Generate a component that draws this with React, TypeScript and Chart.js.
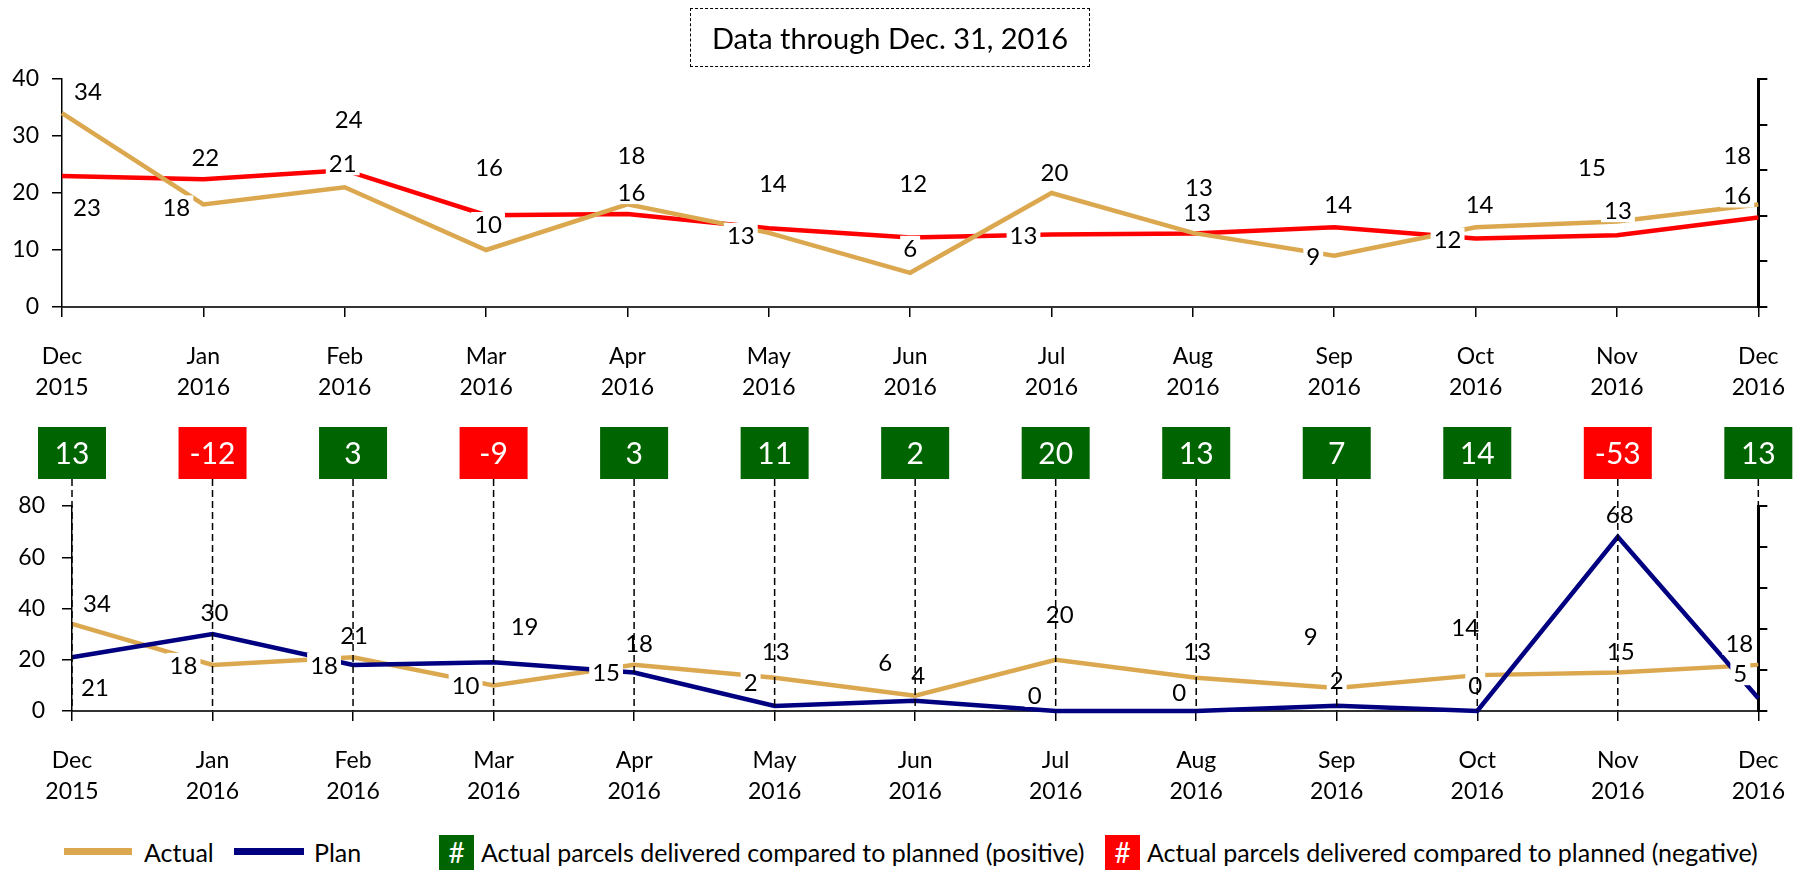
import React, { useEffect, useRef } from 'react';
import { Chart, registerables } from 'chart.js';

Chart.register(...registerables);

const FONT = 'Lato, "Open Sans", sans-serif';

// ---------- data ----------
const monthLabels = ['Dec', 'Jan', 'Feb', 'Mar', 'Apr', 'May', 'Jun', 'Jul', 'Aug', 'Sep', 'Oct', 'Nov', 'Dec'];
const yearLabels = ['2015', '2016', '2016', '2016', '2016', '2016', '2016', '2016', '2016', '2016', '2016', '2016', '2016'];
const actualValues = [34, 18, 21, 10, 18, 13, 6, 20, 13, 9, 14, 15, 18];
const trendValues = [23.0, 22.4, 24.0, 16.1, 16.3, 13.8, 12.2, 12.7, 12.9, 14.0, 12.0, 12.6, 15.7];
const planValues = [21, 30, 18, 19, 15, 2, 4, 0, 0, 2, 0, 68, 5];
const differenceValues = [13, -12, 3, -9, 3, 11, 2, 20, 13, 7, 14, -53, 13];
const topAxisRange = [0, 40, 10];
const bottomAxisRange = [0, 80, 20];
const titleText = 'Data through Dec. 31, 2016';
const legendActual = 'Actual';
const legendPlan = 'Plan';
const legendPositive = 'Actual parcels delivered compared to planned (positive)';
const legendNegative = 'Actual parcels delivered compared to planned (negative)';

// ---------- styling: label placement offsets (px from the point) ----------
const topActualLabelOffsets = [[26, -22], [-27, 3], [-2, -24], [2, -26], [4, -49], [-28, 2], [0, -25], [3, -21], [6, -46], [-21, 1], [4, -23], [-25, -54], [-21, -49]];
const topTrendLabelOffsets = [[25, 31], [2, -22], [4, -51], [3, -48], [4, -22], [4, -45], [3, -54], [-28, 1], [4, -21], [4, -23], [-28, 1], [1, -25], [-21, -22]];
const botActualLabelOffsets = [[25, -21], [-29, 0], [1, -22], [-28, 0], [5, -22], [1, -26], [-30, -33], [4, -45], [1, -26], [-26, -52], [-12, -48], [3, -21], [-19, -22]];
const botPlanLabelOffsets = [[23, 30], [2, -22], [-29, 0], [31, -36], [-28, 0], [-24, -24], [3, -25], [-21, -16], [-17, -19], [0, -26], [-2, -26], [2, -22], [-18, -25]];

const GOLD = '#DBA850';
const NAVY = '#000080';
const RED = '#FF0000';
const GREEN = '#006400';

function makeLabelPlugin(offsets: number[][][]) {
  return {
    id: 'valueLabels',
    afterDatasetsDraw(chart: any) {
      const ctx = chart.ctx;
      ctx.save();
      ctx.font = `24px ${FONT}`;
      ctx.textAlign = 'center';
      ctx.textBaseline = 'middle';
      chart.data.datasets.forEach((ds: any, i: number) => {
        const meta = chart.getDatasetMeta(i);
        meta.data.forEach((pt: any, j: number) => {
          const text = String(Math.round(ds.data[j]));
          const [dx, dy] = offsets[i][j];
          const x = pt.x + dx;
          const y = pt.y + dy;
          const w = ctx.measureText(text).width;
          ctx.fillStyle = '#fff';
          ctx.fillRect(x - w / 2 - 3, y - 12, w + 6, 24);
          ctx.fillStyle = '#000';
          ctx.fillText(text, x, y + 1);
        });
      });
      ctx.restore();
    },
  };
}

const diffPlugin = {
  id: 'diffBoxes',
  afterDatasetsDraw(chart: any) {
    const { ctx, chartArea, scales } = chart;
    ctx.save();
    differenceValues.forEach((d, i) => {
      const px = scales.x.getPixelForValue(i);
      const boxTop = chartArea.top - 79;
      const boxH = 52;
      const boxW = 68;
      ctx.setLineDash([7, 4]);
      ctx.lineWidth = 1.5;
      ctx.strokeStyle = '#000';
      ctx.beginPath();
      ctx.moveTo(px, boxTop + boxH);
      ctx.lineTo(px, chartArea.bottom);
      ctx.stroke();
      ctx.setLineDash([]);
      ctx.fillStyle = d >= 0 ? GREEN : RED;
      ctx.fillRect(px - boxW / 2, boxTop, boxW, boxH);
      ctx.fillStyle = '#fff';
      ctx.font = `30px ${FONT}`;
      ctx.textAlign = 'center';
      ctx.textBaseline = 'middle';
      ctx.fillText(String(d), px, boxTop + boxH / 2 + 1);
    });
    ctx.restore();
  },
};

function axisOptions(range: number[], leftWidth: number, rightWidth: number, xHeight: number, tickPad: number) {
  return {
    x: {
      offset: false,
      grid: { drawOnChartArea: false, tickLength: 10, color: '#000', lineWidth: 1.5 },
      border: { color: '#333', width: 2 },
      ticks: { font: { family: FONT, size: 23, lineHeight: 1.35 }, color: '#000', padding: 24, maxRotation: 0, autoSkip: false },
      afterFit: (s: any) => { s.height = xHeight; },
    },
    y: {
      position: 'left',
      min: range[0],
      max: range[1],
      ticks: { stepSize: range[2], font: { family: FONT, size: 23 }, color: '#000', padding: tickPad },
      grid: { drawOnChartArea: false, tickLength: 10, color: '#000', lineWidth: 1.5 },
      border: { color: '#000', width: 1.5 },
      afterFit: (s: any) => { s.width = leftWidth; },
    },
    y2: {
      position: 'right',
      min: 0,
      max: 5,
      ticks: { display: false, stepSize: 1 },
      grid: { drawOnChartArea: false, tickLength: 9, color: '#000', lineWidth: 2 },
      border: { color: '#000', width: 3 },
      afterFit: (s: any) => { s.width = rightWidth; },
    },
  };
}

export default function App() {
  const topRef = useRef<HTMLCanvasElement | null>(null);
  const botRef = useRef<HTMLCanvasElement | null>(null);

  useEffect(() => {
    const labels = monthLabels.map((m, i) => [m, yearLabels[i]]);
    const top = new Chart(topRef.current as HTMLCanvasElement, {
      type: 'line',
      data: {
        labels,
        datasets: [
          { label: 'Actual', data: actualValues, borderColor: GOLD, borderWidth: 4.5, pointRadius: 0, tension: 0, clip: false, yAxisID: 'y' },
          { label: 'Trend', data: trendValues, borderColor: RED, borderWidth: 4.5, pointRadius: 0, tension: 0, clip: false, yAxisID: 'y' },
        ],
      },
      options: {
        responsive: false,
        animation: false,
        layout: { padding: { top: 79, left: 0, right: 0, bottom: 0 } },
        plugins: { legend: { display: false }, tooltip: { enabled: false } },
        scales: axisOptions(topAxisRange, 62, 1809 - 1765, 410 - 307, 13) as any,
      },
      plugins: [makeLabelPlugin([topActualLabelOffsets, topTrendLabelOffsets])],
    });
    const bot = new Chart(botRef.current as HTMLCanvasElement, {
      type: 'line',
      data: {
        labels,
        datasets: [
          { label: 'Plan', data: planValues, borderColor: NAVY, borderWidth: 4.5, pointRadius: 0, tension: 0, clip: false, yAxisID: 'y' },
          { label: 'Actual', data: actualValues, borderColor: GOLD, borderWidth: 4.5, pointRadius: 0, tension: 0, clip: false, yAxisID: 'y' },
        ],
      },
      options: {
        responsive: false,
        animation: false,
        layout: { padding: { top: 96, left: 0, right: 0, bottom: 0 } },
        plugins: { legend: { display: false }, tooltip: { enabled: false } },
        scales: axisOptions(bottomAxisRange, 72, 1809 - 1769, 420 - 301, 17) as any,
      },
      plugins: [makeLabelPlugin([botPlanLabelOffsets, botActualLabelOffsets]), diffPlugin],
    });
    return () => {
      top.destroy();
      bot.destroy();
    };
  }, []);

  const legendText: React.CSSProperties = {
    position: 'absolute', top: 836, height: 32, lineHeight: '32px', fontSize: 25, color: '#000', whiteSpace: 'nowrap',
  };
  const swatch = (left: number, color: string): React.CSSProperties => ({
    position: 'absolute', left, top: 835, width: 35, height: 35, background: color, color: '#fff',
    fontSize: 28, lineHeight: '35px', textAlign: 'center',
  });

  return (
    <div style={{ position: 'absolute', left: 0, top: 0, width: 1809, height: 870, background: '#fff', overflow: 'hidden', fontFamily: FONT }}>
      <canvas ref={topRef} width={1809} height={410} style={{ position: 'absolute', left: 0, top: 0, display: 'block' }} />
      <canvas ref={botRef} width={1809} height={420} style={{ position: 'absolute', left: 0, top: 410, display: 'block' }} />
      <div style={{
        position: 'absolute', left: 690, top: 8, width: 398, height: 57, border: '1px dashed #000',
        display: 'flex', alignItems: 'center', justifyContent: 'center', fontSize: 29, color: '#000',
      }}>{titleText}</div>
      <div style={{ position: 'absolute', left: 64, top: 848, width: 68, height: 7, background: GOLD }} />
      <div style={{ ...legendText, left: 144 }}>{legendActual}</div>
      <div style={{ position: 'absolute', left: 234, top: 848, width: 70, height: 7, background: NAVY }} />
      <div style={{ ...legendText, left: 314 }}>{legendPlan}</div>
      <div style={swatch(439, GREEN)}>#</div>
      <div style={{ ...legendText, left: 481 }}>{legendPositive}</div>
      <div style={swatch(1105, RED)}>#</div>
      <div style={{ ...legendText, left: 1147 }}>{legendNegative}</div>
    </div>
  );
}
